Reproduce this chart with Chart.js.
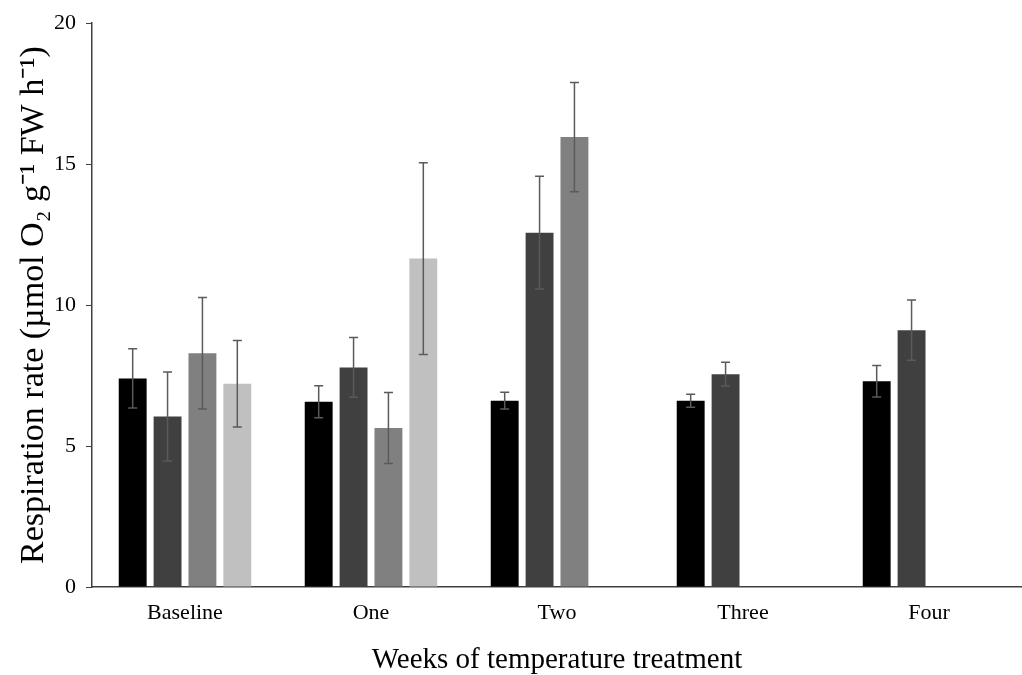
<!DOCTYPE html>
<html>
<head>
<meta charset="utf-8">
<script src="https://cdn.jsdelivr.net/npm/chart.js@4"></script>
<style>
html,body{margin:0;padding:0;background:#fff;}
#wrap{width:1022px;height:675px;position:relative;}
</style>
</head>
<body>
<div id="wrap"><canvas id="c" width="1022" height="675"></canvas></div>
<script>
const categories = ["Baseline", "One", "Two", "Three", "Four"];
const seriesNames = ["Series 1", "Series 2", "Series 3", "Series 4"];
const series1 = [7.40, 6.57, 6.61, 6.61, 7.30];
const series2 = [6.05, 7.79, 12.57, 7.55, 9.11];
const series3 = [8.29, 5.64, 15.96, null, null];
const series4 = [7.21, 11.65, null, null, null];
const err1 = [1.05, 0.57, 0.30, 0.23, 0.56];
const err2 = [1.58, 1.06, 2.00, 0.42, 1.07];
const err3 = [1.98, 1.26, 1.94, null, null];
const err4 = [1.53, 3.40, null, null, null];
const yTicks = [0, 5, 10, 15, 20];
const colors = ["#000000", "#404040", "#808080", "#c0c0c0"];

const values = [series1, series2, series3, series4];
const errors = [err1, err2, err3, err4];

const errorBarPlugin = {
  id: 'errorBars',
  afterDatasetsDraw(chart) {
    const ctx = chart.ctx;
    const y = chart.scales.y;
    ctx.save();
    ctx.strokeStyle = '#5a5a5a';
    ctx.lineWidth = 1.5;
    chart.data.datasets.forEach((ds, di) => {
      const meta = chart.getDatasetMeta(di);
      meta.data.forEach((bar, i) => {
        const v = ds.data[i];
        const e = errors[di][i];
        if (v == null || e == null) return;
        const x = bar.x;
        const yt = y.getPixelForValue(v + e);
        const yb = y.getPixelForValue(v - e);
        const cap = 4.5;
        ctx.beginPath();
        ctx.moveTo(x, yt); ctx.lineTo(x, yb);
        ctx.moveTo(x - cap, yt); ctx.lineTo(x + cap, yt);
        ctx.moveTo(x - cap, yb); ctx.lineTo(x + cap, yb);
        ctx.stroke();
      });
    });
    ctx.restore();
  }
};

new Chart(document.getElementById('c'), {
  type: 'bar',
  data: {
    labels: categories,
    datasets: values.map((vals, i) => ({
      label: seriesNames[i],
      data: vals,
      backgroundColor: colors[i],
      borderWidth: 0,
      categoryPercentage: 0.75,
      barPercentage: 0.8
    }))
  },
  options: {
    responsive: false,
    animation: false,
    layout: { padding: { top: 19, right: 0, left: 0, bottom: 0 } },
    plugins: {
      legend: { display: false },
      tooltip: { enabled: false }
    },
    scales: {
      x: {
        grid: { display: false, drawTicks: false },
        border: { display: true, color: '#404040', width: 1.5 },
        ticks: {
          color: '#000',
          padding: 13,
          font: { family: '"Liberation Serif", "Times New Roman", serif', size: 22 }
        },
        title: {
          display: true,
          text: 'Weeks of temperature treatment',
          color: '#000',
          padding: { top: 0, bottom: 0 },
          font: { family: '"Liberation Serif", "Times New Roman", serif', size: 29, lineHeight: 1.0 }
        },
        afterFit(scale) { scale.height = 88; }
      },
      y: {
        min: 0,
        max: 20,
        afterBuildTicks(scale) { scale.ticks = yTicks.map(v => ({ value: v })); },
        grid: { drawOnChartArea: false, drawTicks: true, tickLength: 6, color: '#404040', lineWidth: 1 },
        border: { display: true, color: '#404040', width: 1.5 },
        ticks: {
          color: '#000',
          padding: 10,
          font: { family: '"Liberation Serif", "Times New Roman", serif', size: 22 }
        },
        title: {
          display: true,
          text: 'Respiration rate (µmol O₂ g⁻¹ FW h⁻¹)',
          color: '#000',
          padding: { top: 14, bottom: 0 },
          font: { family: '"Liberation Serif", "Times New Roman", serif', size: 34 }
        },
        afterFit(scale) { scale.width = 92; }
      }
    }
  },
  plugins: [errorBarPlugin]
});
</script>
</body>
</html>
